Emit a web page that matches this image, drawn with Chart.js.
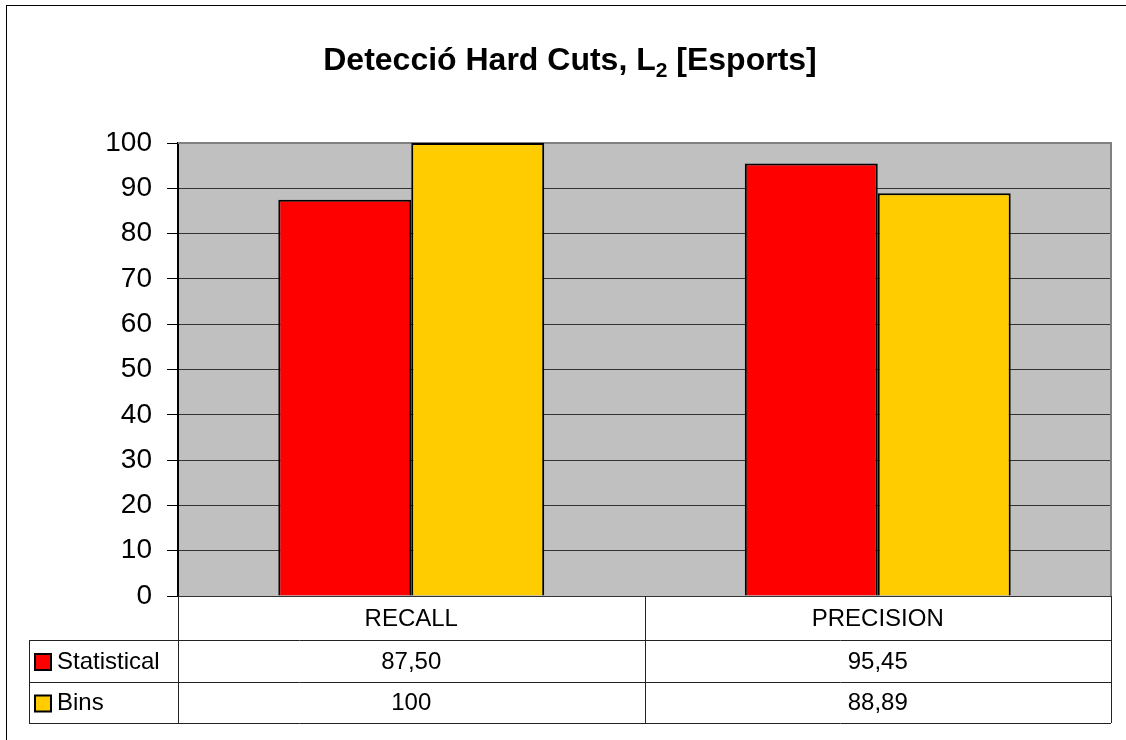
<!DOCTYPE html>
<html>
<head>
<meta charset="utf-8">
<title>Detecció Hard Cuts</title>
<script src="https://cdn.jsdelivr.net/npm/chart.js@4"></script>
<style>
  body { margin: 0; background: #fff; }
  #wrap { width: 1126px; height: 740px; }
</style>
</head>
<body>
<div id="wrap"><canvas id="myChart" width="1126" height="740"></canvas></div>
<script>
// Dades del gràfic
const categories = ["RECALL", "PRECISION"];
const seriesNames = ["Statistical", "Bins"];
const statistical = [87.5, 95.45];
const bins = [100, 88.89];
const seriesColors = ["#FF0000", "#FFCC00"];
const yTicks = [0, 10, 20, 30, 40, 50, 60, 70, 80, 90, 100];

const FONT = "'Liberation Sans', Arial, sans-serif";

// format català: 87,50 / 100
function formatValue(v) {
    if (Number.isInteger(v)) return String(v);
    return v.toFixed(2).replace(".", ",");
}

// fons gris de l'àrea del gràfic i vora exterior
const plotBackground = {
    id: "plotBackground",
    beforeDraw(chart) {
        const { ctx, chartArea: a } = chart;
        ctx.save();
        ctx.fillStyle = "#fff";
        ctx.fillRect(0, 0, chart.width, chart.height);
        ctx.strokeStyle = "#000";
        ctx.lineWidth = 1;
        ctx.strokeRect(6.5, 5.5, chart.width + 20, chart.height + 20);
        ctx.fillStyle = "#C0C0C0";
        ctx.fillRect(a.left, a.top, a.right - a.left, a.bottom - a.top);
        ctx.restore();
    },
    beforeDatasetsDraw(chart) {
        const { ctx, chartArea: a } = chart;
        ctx.save();
        ctx.strokeStyle = "#808080";
        ctx.lineWidth = 2;
        ctx.beginPath();
        ctx.moveTo(a.left, a.top);
        ctx.lineTo(a.right, a.top);
        ctx.lineTo(a.right, a.bottom);
        ctx.stroke();
        ctx.restore();
    }
};

// títol amb subíndex
const titlePlugin = {
    id: "titlePlugin",
    afterDraw(chart) {
        const ctx = chart.ctx;
        const parts = [
            { text: "Detecció Hard Cuts, L", size: 32, dy: 0 },
            { text: "2", size: 21, dy: 7 },
            { text: " [Esports]", size: 32, dy: 0 }
        ];
        ctx.save();
        let total = 0;
        parts.forEach(p => {
            ctx.font = "bold " + p.size + "px " + FONT;
            p.w = ctx.measureText(p.text).width;
            total += p.w;
        });
        const cx = (29 + chart.chartArea.right) / 2;
        let x = cx - total / 2;
        const baseline = 70;
        ctx.fillStyle = "#000";
        ctx.textBaseline = "alphabetic";
        ctx.textAlign = "left";
        parts.forEach(p => {
            ctx.font = "bold " + p.size + "px " + FONT;
            ctx.fillText(p.text, x, baseline + p.dy);
            x += p.w;
        });
        ctx.restore();
    }
};

// taula de dades sota l'eix X
const dataTable = {
    id: "dataTable",
    afterDraw(chart) {
        const { ctx, chartArea: a } = chart;
        const xs = chart.scales.x;
        const left = 29;
        const rows = [a.bottom, a.bottom + 44, a.bottom + 86, a.bottom + 127];
        const cols = [a.left];
        for (let i = 0; i < categories.length - 1; i++) {
            cols.push((xs.getPixelForValue(i) + xs.getPixelForValue(i + 1)) / 2);
        }
        cols.push(a.right);

        ctx.save();
        ctx.strokeStyle = "#222";
        ctx.lineWidth = 1;
        ctx.beginPath();
        for (let r = 1; r < rows.length; r++) {
            ctx.moveTo(left, Math.round(rows[r]) + 0.5);
            ctx.lineTo(a.right, Math.round(rows[r]) + 0.5);
        }
        cols.forEach(c => {
            ctx.moveTo(Math.round(c) + 0.5, rows[0]);
            ctx.lineTo(Math.round(c) + 0.5, rows[3]);
        });
        ctx.moveTo(left + 0.5, rows[1]);
        ctx.lineTo(left + 0.5, rows[3]);
        ctx.stroke();

        ctx.fillStyle = "#000";
        ctx.font = "24px " + FONT;
        ctx.textBaseline = "middle";
        ctx.textAlign = "center";
        categories.forEach((c, i) => {
            ctx.fillText(c, xs.getPixelForValue(i), (rows[0] + rows[1]) / 2 + 1);
        });

        chart.data.datasets.forEach((ds, s) => {
            const yMid = (rows[s + 1] + rows[s + 2]) / 2 + 1;
            ctx.textAlign = "center";
            ds.data.forEach((v, i) => {
                ctx.fillText(formatValue(v), xs.getPixelForValue(i), yMid);
            });
            // clau de la llegenda
            ctx.fillStyle = ds.backgroundColor;
            ctx.fillRect(35, yMid - 8, 16, 16);
            ctx.strokeStyle = "#000";
            ctx.lineWidth = 2;
            ctx.strokeRect(35, yMid - 8, 16, 16);
            ctx.fillStyle = "#000";
            ctx.textAlign = "left";
            ctx.fillText(ds.label, 57, yMid);
        });
        ctx.restore();
    }
};

const config = {
    type: "bar",
    data: {
        labels: categories,
        datasets: [
            { label: seriesNames[0], data: statistical, backgroundColor: seriesColors[0] },
            { label: seriesNames[1], data: bins, backgroundColor: seriesColors[1] }
        ]
    },
    options: {
        responsive: false,
        animation: false,
        events: [],
        layout: { padding: { top: 143, right: 15, bottom: 144, left: 0 } },
        datasets: {
            bar: {
                categoryPercentage: 0.57,
                barPercentage: 1,
                borderColor: "#000",
                borderWidth: 2
            }
        },
        plugins: {
            legend: { display: false },
            title: { display: false },
            tooltip: { enabled: false }
        },
        scales: {
            x: { display: false },
            y: {
                min: 0,
                max: 100,
                afterFit(axis) { axis.width = 178; },
                afterBuildTicks(axis) { axis.ticks = yTicks.map(v => ({ value: v })); },
                ticks: {
                    padding: 15,
                    color: "#000",
                    font: { family: FONT, size: 28 }
                },
                grid: {
                    color: ctx => ctx.tick && ctx.tick.value === 100 ? "rgba(0,0,0,0)" : "#333",
                    tickColor: "#000",
                    tickLength: 11,
                    lineWidth: 1
                },
                border: { color: "#000", width: 2 }
            }
        }
    },
    plugins: [plotBackground, titlePlugin, dataTable]
};

const grafica = new Chart(document.getElementById("myChart"), config);
</script>
</body>
</html>
